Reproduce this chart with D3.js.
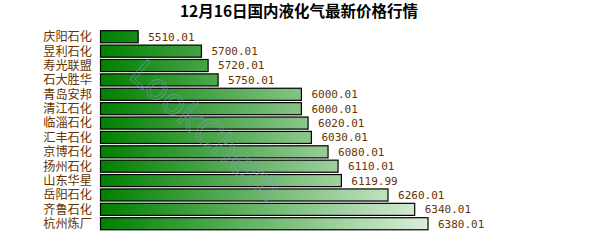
<!DOCTYPE html>
<html><head><meta charset="utf-8">
<script src="https://cdn.jsdelivr.net/npm/d3@7/dist/d3.min.js"></script>
<style>body{margin:0;background:#fff;}svg{display:block;}</style>
</head><body>
<script>
const title = "12月16日国内液化气最新价格行情";
const categories = ["庆阳石化","昱利石化","寿光联盟","石大胜华","青岛安邦","清江石化","临淄石化","汇丰石化","京博石化","扬州石化","山东华星","岳阳石化","齐鲁石化","杭州炼厂"];
const values = [5510.01,5700.01,5720.01,5750.01,6000.01,6000.01,6020.01,6030.01,6080.01,6110.01,6119.99,6260.01,6340.01,6380.01];
const valueLabels = ["5510.01","5700.01","5720.01","5750.01","6000.01","6000.01","6020.01","6030.01","6080.01","6110.01","6119.99","6260.01","6340.01","6380.01"];

const W = 600, H = 250;
const svg = d3.select("body").append("svg").attr("width", W).attr("height", H);

const defs = svg.append("defs");
const grad = defs.append("linearGradient").attr("id","g").attr("gradientUnits","userSpaceOnUse")
  .attr("x1",100).attr("x2",430).attr("y1",0).attr("y2",0);
grad.append("stop").attr("offset","0%").attr("stop-color","#008000");
grad.append("stop").attr("offset","100%").attr("stop-color","#dcefdc");

const x = d3.scaleLinear().domain([5397, 6380.01]).range([100.5, 428]);
const y = d3.scaleBand().domain(categories).range([30, 230.5]).paddingInner(0.16).paddingOuter(0.05);

svg.append("text").attr("x",299).attr("y",17).attr("text-anchor","middle")
  .attr("font-family","'Noto Sans CJK SC'").attr("font-weight","bold").attr("font-size",15.5)
  .attr("fill","#000").text(title);

svg.append("g").selectAll("rect").data(values).join("rect")
  .attr("x", x(5397)).attr("y",(d,i)=>y(categories[i]))
  .attr("width", d=>x(d)-x(5397)).attr("height", y.bandwidth())
  .attr("fill","url(#g)").attr("stroke","#000").attr("stroke-width",1.2);

// faint watermark over the bars
const wm = svg.append("g").attr("transform","translate(198,140) rotate(42)").attr("opacity",0.55);
wm.append("text").attr("text-anchor","middle").attr("font-family","DejaVu Sans").attr("font-size",36)
  .attr("fill","none").attr("stroke","#8a9cc0").attr("stroke-width",0.9).text("LookChem");

svg.append("g").selectAll("text").data(categories).join("text")
  .attr("x",92).attr("y",d=>y(d)+y.bandwidth()/2).attr("dy","0.36em")
  .attr("text-anchor","end").attr("font-family","'Liberation Sans','Noto Sans CJK SC'").attr("font-size",12.2)
  .attr("fill","#663300").text(d=>d);

svg.append("g").selectAll("text").data(values).join("text")
  .attr("x",d=>x(d)+10).attr("y",(d,i)=>y(categories[i])+y.bandwidth()/2).attr("dy","0.36em")
  .attr("font-family","'DejaVu Sans Mono'").attr("font-size",11)
  .attr("fill","#663300").text((d,i)=>valueLabels[i]);
</script>
</body></html>
